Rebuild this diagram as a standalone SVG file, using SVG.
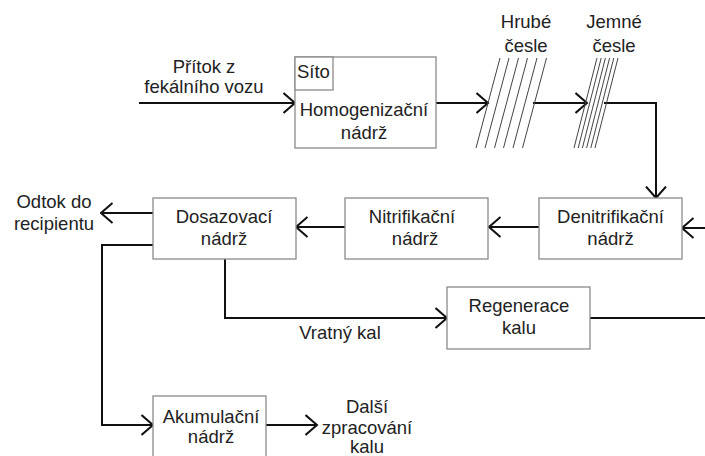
<svg xmlns="http://www.w3.org/2000/svg" width="705" height="456" viewBox="0 0 705 456">
  <style>
    .box { fill: #ffffff; stroke: #8a8a8a; stroke-width: 1.3; }
    .flow { fill: none; stroke: #111111; stroke-width: 2; }
    .bar { stroke: #444444; stroke-width: 1; }
    text { font-family: "Liberation Sans", Arial, sans-serif; font-size: 18.5px; fill: #222222; }
    .c { text-anchor: middle; }
  </style>
  <defs>
    <marker id="arrow" viewBox="0 0 14 22" refX="12.5" refY="11" markerWidth="14" markerHeight="22" markerUnits="userSpaceOnUse" orient="auto">
      <path d="M1,1 L12.5,11 L1,21" fill="none" stroke="#111111" stroke-width="2"/>
    </marker>
  </defs>

  <!-- connectors -->
  <g id="connectors">
    <path class="flow" d="M139,103 H295" marker-end="url(#arrow)"/>
    <path class="flow" d="M436,103 H488" marker-end="url(#arrow)"/>
    <path class="flow" d="M533,103 H587" marker-end="url(#arrow)"/>
    <path class="flow" d="M604,103 H656 V198" marker-end="url(#arrow)"/>
    <path class="flow" d="M705,228 H682" marker-end="url(#arrow)"/>
    <path class="flow" d="M539,227 H489" marker-end="url(#arrow)"/>
    <path class="flow" d="M345,227 H296" marker-end="url(#arrow)"/>
    <path class="flow" d="M153,213 H101" marker-end="url(#arrow)"/>
    <path class="flow" d="M225,259 V318 H447" marker-end="url(#arrow)"/>
    <path class="flow" d="M590,318 H705"/>
    <path class="flow" d="M153,245 H102 V425 H153" marker-end="url(#arrow)"/>
    <path class="flow" d="M266,425 H317" marker-end="url(#arrow)"/>
  </g>

  <!-- flow labels -->
  <g id="labels">
    <text class="c" x="204" y="73">Přítok z</text>
    <text class="c" x="204" y="93">fekálního vozu</text>
    <text class="c" x="54" y="208">Odtok do</text>
    <text class="c" x="54" y="230">recipientu</text>
    <text class="c" x="340" y="339">Vratný kal</text>
    <text class="c" x="367" y="413">Další</text>
    <text class="c" x="367" y="434">zpracování</text>
    <text class="c" x="367" y="453">kalu</text>
  </g>

  <!-- homogenisation tank with sieve -->
  <g id="homogenizacni-nadrz">
    <rect class="box" x="295" y="57" width="141" height="91"/>
    <rect class="box" x="295" y="57" width="38" height="33"/>
    <text x="297" y="78">Síto</text>
    <text class="c" x="364" y="116">Homogenizační</text>
    <text class="c" x="364" y="139">nádrž</text>
  </g>

  <!-- coarse screens -->
  <g id="hrube-cesle">
    <line class="bar" x1="476" y1="148" x2="500" y2="58"/>
    <line class="bar" x1="485" y1="148" x2="509" y2="58"/>
    <line class="bar" x1="494.5" y1="148" x2="518.5" y2="58"/>
    <line class="bar" x1="503.5" y1="148" x2="527.5" y2="58"/>
    <line class="bar" x1="513" y1="148" x2="537" y2="58"/>
    <line class="bar" x1="522.5" y1="148" x2="546.5" y2="58"/>
    <text class="c" x="526" y="28">Hrubé</text>
    <text class="c" x="526" y="52">česle</text>
  </g>

  <!-- fine screens -->
  <g id="jemne-cesle">
    <line class="bar" x1="574" y1="148" x2="597" y2="58"/>
    <line class="bar" x1="578.2" y1="148" x2="601.2" y2="58"/>
    <line class="bar" x1="582.4" y1="148" x2="605.4" y2="58"/>
    <line class="bar" x1="586.6" y1="148" x2="609.6" y2="58"/>
    <line class="bar" x1="590.8" y1="148" x2="613.8" y2="58"/>
    <line class="bar" x1="595" y1="148" x2="618" y2="58"/>
    <text class="c" x="614" y="28">Jemné</text>
    <text class="c" x="614" y="52">česle</text>
  </g>

  <g id="denitrifikacni-nadrz">
    <rect class="box" x="539" y="198" width="143" height="61"/>
    <text class="c" x="610.5" y="223">Denitrifikační</text>
    <text class="c" x="610.5" y="245">nádrž</text>
  </g>

  <g id="nitrifikacni-nadrz">
    <rect class="box" x="345" y="198" width="143" height="61"/>
    <text class="c" x="412" y="223">Nitrifikační</text>
    <text class="c" x="415" y="245">nádrž</text>
  </g>

  <g id="dosazovaci-nadrz">
    <rect class="box" x="153" y="198" width="143" height="61"/>
    <text class="c" x="224" y="223">Dosazovací</text>
    <text class="c" x="224" y="245">nádrž</text>
  </g>

  <g id="regenerace-kalu">
    <rect class="box" x="447" y="287" width="143" height="62"/>
    <text class="c" x="519" y="312">Regenerace</text>
    <text class="c" x="519" y="334">kalu</text>
  </g>

  <g id="akumulacni-nadrz">
    <rect class="box" x="153" y="396" width="113" height="70"/>
    <text class="c" x="211" y="423">Akumulační</text>
    <text class="c" x="211" y="443">nádrž</text>
  </g>
</svg>
